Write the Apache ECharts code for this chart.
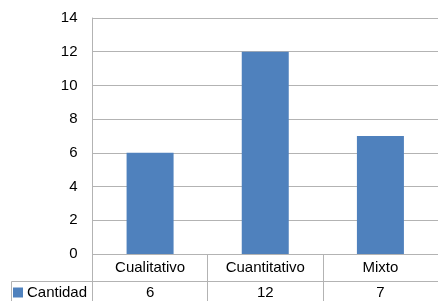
<!DOCTYPE html>
<html>
<head>
<meta charset="utf-8">
<script src="https://cdn.jsdelivr.net/npm/echarts@6/dist/echarts.min.js"></script>
<style>
  html, body { margin: 0; padding: 0; background: #fff; }
  #chart { width: 438px; height: 301px; }
</style>
</head>
<body>
<div id="chart"></div>
<script>
// datos de la gráfica
const categories = ['Cualitativo', 'Cuantitativo', 'Mixto']
const cantidad = [6, 12, 7]
const yTicks = [0, 2, 4, 6, 8, 10, 12, 14]

const lineColor = '#b3b3b3'
const font = 'Liberation Sans, Arial, sans-serif'

const chart = echarts.init(document.getElementById('chart'))
chart.setOption({
  animation: false,
  textStyle: { fontFamily: font },
  grid: { left: 92.5, right: -5, top: 18, bottom: 47 },
  legend: {
    left: 13,
    top: 285,
    padding: 0,
    itemWidth: 10,
    itemHeight: 10,
    itemGap: 4,
    icon: 'rect',
    textStyle: { fontSize: 15, color: '#000', fontFamily: font, padding: [0, 0, 0, -1] },
    data: ['Cantidad']
  },
  xAxis: [
    {
      // fila de nombres de la tabla
      type: 'category',
      data: categories,
      axisLine: { show: true, lineStyle: { color: lineColor } },
      axisTick: { show: true, length: 47, lineStyle: { color: lineColor } },
      axisLabel: { margin: 6, fontSize: 15, color: '#000', fontFamily: font }
    },
    {
      // fila de valores de la tabla
      type: 'category',
      position: 'bottom',
      offset: 27,
      data: cantidad.map(v => String(v)),
      axisLine: { show: true, lineStyle: { color: lineColor } },
      axisTick: { show: false },
      axisLabel: { margin: 4, fontSize: 15, color: '#000', fontFamily: font }
    }
  ],
  yAxis: {
    type: 'value',
    min: yTicks[0],
    max: yTicks[yTicks.length - 1],
    interval: 2,
    axisLine: { show: true, lineStyle: { color: lineColor } },
    axisTick: { show: false },
    splitLine: { lineStyle: { color: lineColor } },
    axisLabel: { margin: 15, fontSize: 15, color: '#000', fontFamily: font }
  },
  // celda de la leyenda en la tabla
  graphic: [
    {
      type: 'polyline',
      shape: { points: [[11.5, 301], [11.5, 281.5], [93, 281.5]] },
      style: { stroke: lineColor, fill: null, lineWidth: 1 },
      silent: true
    }
  ],
  series: [
    {
      name: 'Cantidad',
      type: 'bar',
      xAxisIndex: 0,
      data: cantidad,
      barWidth: 47,
      itemStyle: { color: '#4f81bd' }
    }
  ]
})
</script>
</body>
</html>
